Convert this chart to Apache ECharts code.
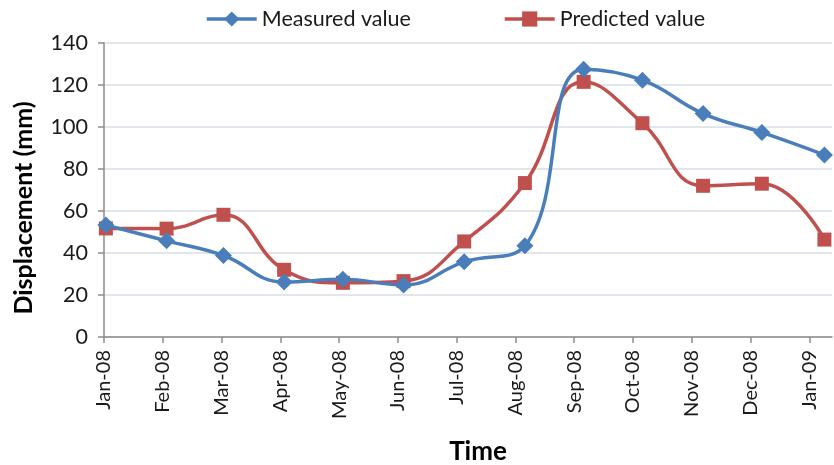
<!DOCTYPE html>
<html>
<head>
<meta charset="utf-8">
<script src="https://cdn.jsdelivr.net/npm/echarts@6/dist/echarts.min.js"></script>
<style>
  html, body { margin: 0; padding: 0; background: #ffffff; }
  #chart { width: 834px; height: 465px; }
</style>
</head>
<body>
<div id="chart"></div>
<script>
// Monitoring dates of each survey
var surveyDates = ['2008-01-02', '2008-02-03', '2008-03-04', '2008-04-05', '2008-05-06', '2008-06-07',
                   '2008-07-09', '2008-08-10', '2008-09-10', '2008-10-11', '2008-11-12', '2008-12-13', '2009-01-15'];
// Displacement (mm)
var measuredValues  = [53.3, 45.8, 38.8, 26.2, 27.5, 24.8, 35.8, 43.5, 127.5, 122.3, 106.4, 97.4, 86.7];
var predictedValues = [51.7, 51.6, 58.2, 32.0, 25.8, 26.6, 45.5, 73.3, 121.5, 101.8, 72.0, 73.0, 46.4];
// Month labels along the time axis
var timeTickLabels = ['Jan-08', 'Feb-08', 'Mar-08', 'Apr-08', 'May-08', 'Jun-08', 'Jul-08',
                      'Aug-08', 'Sep-08', 'Oct-08', 'Nov-08', 'Dec-08', 'Jan-09'];
var yTickValues = [0, 20, 40, 60, 80, 100, 120, 140];

// Time axis is in days since 1 Jan 2008, with a major unit of 31 days
var ORIGIN = Date.UTC(2008, 0, 1);
var STEP = 31;
function dayOffset(s) {
  var p = s.split('-');
  return (Date.UTC(+p[0], +p[1] - 1, +p[2]) - ORIGIN) / 86400000;
}
var tickDays = timeTickLabels.map(function (_, i) { return i * STEP; });
function pairs(values) {
  return surveyDates.map(function (d, i) { return [dayOffset(d), values[i]]; });
}

var FONT = 'Lato, "Open Sans", sans-serif';
var AXIS_GREY = '#8c8c8c';
var BLUE = '#4a7ebb';
var RED = '#c0504d';
var chart = echarts.init(document.getElementById('chart'));
chart.setOption({
  animation: false,
  backgroundColor: '#ffffff',
  textStyle: { fontFamily: FONT, color: '#000' },
  legend: {
    left: 200, top: 3,
    itemWidth: 50, itemHeight: 19, itemGap: 92,
    lineStyle: { width: 3.5 },
    textStyle: { fontSize: 21.5, color: '#1a1a1a', fontFamily: FONT },
    data: [
      { name: 'Measured value', lineStyle: { width: 3.5, color: BLUE } },
      { name: 'Predicted value', lineStyle: { width: 3.5, color: RED } }
    ]
  },
  grid: { left: 104, right: 2, top: 43, bottom: 128 },
  xAxis: {
    type: 'value',
    min: 0, max: 384,
    axisLine: { show: true, lineStyle: { color: AXIS_GREY, width: 1.5 } },
    axisTick: { show: true, length: 6, customValues: tickDays, lineStyle: { color: AXIS_GREY, width: 1.5 } },
    splitLine: { show: false },
    axisLabel: {
      customValues: tickDays,
      rotate: 90, margin: 13,
      fontSize: 20, color: '#1a1a1a', fontFamily: FONT,
      formatter: function (v) { return timeTickLabels[Math.round(v / STEP)] || ''; }
    }
  },
  yAxis: {
    type: 'value',
    min: 0, max: 140, interval: 20,
    axisLine: { show: true, lineStyle: { color: AXIS_GREY, width: 1.5 } },
    axisTick: { show: true, inside: false, length: 6, lineStyle: { color: AXIS_GREY, width: 1.5 } },
    splitLine: { show: true, lineStyle: { color: '#d7dde6', width: 1.5 } },
    axisLabel: {
      fontSize: 21.5, color: '#1a1a1a', fontFamily: FONT, margin: 16,
      formatter: function (v) { return yTickValues.indexOf(v) >= 0 ? String(v) : ''; }
    }
  },
  graphic: [
    {
      type: 'text', x: 24, y: 208, rotation: Math.PI / 2,
      style: { text: 'Displacement (mm)', font: 'bold 25px ' + FONT, fill: '#000', align: 'center', verticalAlign: 'middle' }
    },
    {
      type: 'text', x: 478, y: 452,
      style: { text: 'Time', font: 'bold 26px ' + FONT, fill: '#000', align: 'center', verticalAlign: 'middle' }
    }
  ],
  series: [
    {
      name: 'Measured value',
      type: 'line',
      smooth: 0.45,
      data: pairs(measuredValues),
      symbol: 'diamond', symbolSize: 17,
      lineStyle: { color: BLUE, width: 3.5 },
      itemStyle: { color: BLUE },
      z: 3
    },
    {
      name: 'Predicted value',
      type: 'line',
      smooth: 0.45,
      data: pairs(predictedValues),
      symbol: 'rect', symbolSize: 14,
      lineStyle: { color: RED, width: 3.5 },
      itemStyle: { color: RED },
      z: 2
    }
  ]
});
</script>
</body>
</html>
